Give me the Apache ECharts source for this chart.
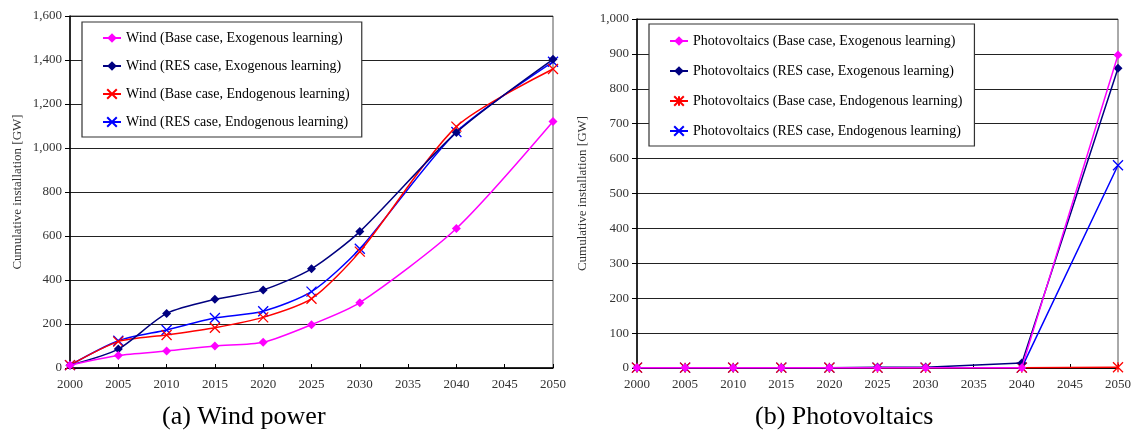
<!DOCTYPE html>
<html>
<head>
<meta charset="utf-8">
<script src="https://cdn.jsdelivr.net/npm/echarts@6/dist/echarts.min.js"></script>
<style>
  html, body { margin: 0; padding: 0; background: #fff; }
  #chart { width: 1134px; height: 434px; }
</style>
</head>
<body>
<div id="chart"></div>
<script>
// years with data (2035 and 2045 have none)
const years = [2000, 2005, 2010, 2015, 2020, 2025, 2030, 2040, 2050]

// wind power, cumulative installation [GW]
const windBaseExo = [13, 57, 77, 100, 117, 197, 297, 634, 1120]
const windResExo = [13, 86, 248, 312, 355, 451, 620, 1071, 1403]
const windBaseEndo = [13, 120, 150, 183, 230, 315, 529, 1097, 1359]
const windResEndo = [13, 124, 173, 227, 258, 347, 542, 1073, 1392]

// photovoltaics, cumulative installation [GW]
const pvBaseExo = [1, 1, 1, 1, 1, 1, 1, 1, 897]
const pvResExo = [1, 1, 1, 1, 1, 2, 2, 14, 859]
const pvBaseEndo = [1, 1, 1, 1, 1, 1, 1, 1, 2]
const pvResEndo = [1, 1, 1, 1, 1, 1, 1, 1, 581]

const windNames = [
  'Wind (Base case, Exogenous learning)',
  'Wind (RES case, Exogenous learning)',
  'Wind (Base case, Endogenous learning)',
  'Wind (RES case, Endogenous learning)'
]
const pvNames = [
  'Photovoltaics (Base case, Exogenous learning)',
  'Photovoltaics (RES case, Exogenous learning)',
  'Photovoltaics (Base case, Endogenous learning)',
  'Photovoltaics (RES case, Endogenous learning)'
]
const panelTitles = ['(a) Wind power', '(b) Photovoltaics']
const yName = 'Cumulative installation [GW]'

const colors = ['#ff00ff', '#000080', '#ff0000', '#0000ff']
const crossPath = 'path://M0,0L10,10M10,0L0,10'
const starPath = 'path://M0,0L10,10M10,0L0,10M5,0L5,10'

const font = '"Liberation Serif", "DejaVu Serif", serif'

const chart = echarts.init(document.getElementById('chart'))

const pairs = vals => years.map((y, i) => [y, vals[i]])

const makeSeries = (name, vals, idx, gridIdx, symbol, smooth) => {
  const isPath = symbol !== 'diamond'
  return {
    name,
    type: 'line',
    xAxisIndex: gridIdx,
    yAxisIndex: gridIdx,
    data: pairs(vals),
    smooth,
    symbol,
    symbolSize: isPath ? 10 : 9,
    showAllSymbol: true,
    lineStyle: { color: colors[idx], width: 1.5 },
    itemStyle: isPath
      ? { color: colors[idx], borderColor: colors[idx], borderWidth: 1.3 }
      : { color: colors[idx], borderWidth: 0 },
    emphasis: { disabled: true },
    z: 10 - idx
  }
}

const xAxis = gridIdx => ({
  type: 'value',
  gridIndex: gridIdx,
  min: 2000,
  max: 2050,
  interval: 5,
  axisLine: { lineStyle: { color: '#000', width: 1.5 } },
  axisTick: { inside: true, length: 4, lineStyle: { color: '#000' } },
  axisLabel: { color: '#333', fontFamily: font, fontSize: 13, margin: 10, formatter: v => String(v) },
  splitLine: { show: false }
})

const yAxis = (gridIdx, max, interval) => ({
  type: 'value',
  gridIndex: gridIdx,
  min: 0,
  max,
  interval,
  name: yName,
  nameLocation: 'middle',
  nameGap: gridIdx === 0 ? 46 : 48,
  nameTextStyle: { color: '#333', fontFamily: font, fontSize: 13 },
  axisLine: { show: true, lineStyle: { color: '#000', width: 1.5 } },
  axisTick: { show: true, length: 5, lineStyle: { color: '#000' } },
  axisLabel: {
    color: '#333',
    fontFamily: font,
    fontSize: 13,
    margin: 8,
    formatter: v => v.toLocaleString('en-US')
  },
  splitLine: { lineStyle: { color: '#222', width: 1 } }
})

const legend = (names, left, top, gap, padTop) => ({
  data: names,
  orient: 'vertical',
  left,
  top,
  itemGap: gap,
  itemWidth: 18,
  itemHeight: 12,
  padding: [padTop, 12, 8, 20],
  backgroundColor: '#fff',
  borderColor: '#333',
  borderWidth: 1.2,
  textStyle: { color: '#000', fontFamily: font, fontSize: 14 },
  selectedMode: false
})

const windSymbols = ['diamond', 'diamond', crossPath, crossPath]
const pvSymbols = ['diamond', 'diamond', starPath, crossPath]

const option = {
  animation: false,
  backgroundColor: '#fff',
  grid: [
    { left: 70, top: 16, width: 483, height: 352, show: true, borderColor: '#555', borderWidth: 1 },
    { left: 637, top: 19, width: 485, height: 349, show: true, borderColor: '#555', borderWidth: 1 }
  ],
  xAxis: [xAxis(0), xAxis(1)],
  yAxis: [yAxis(0, 1600, 200), yAxis(1, 1000, 100)],
  legend: [
    legend(windNames, 82, 22, 14, 9),
    legend(pvNames, 649, 24, 16, 10)
  ],
  graphic: [
    {
      type: 'text', left: 162, top: 404,
      style: { text: panelTitles[0], font: '26px ' + font, fill: '#000' }
    },
    {
      type: 'text', left: 755, top: 404,
      style: { text: panelTitles[1], font: '26px ' + font, fill: '#000' }
    }
  ],
  series: [
    makeSeries(windNames[0], windBaseExo, 0, 0, windSymbols[0], 0.25),
    makeSeries(windNames[1], windResExo, 1, 0, windSymbols[1], 0.25),
    makeSeries(windNames[2], windBaseEndo, 2, 0, windSymbols[2], 0.25),
    makeSeries(windNames[3], windResEndo, 3, 0, windSymbols[3], 0.25),
    makeSeries(pvNames[0], pvBaseExo, 0, 1, pvSymbols[0], false),
    makeSeries(pvNames[1], pvResExo, 1, 1, pvSymbols[1], false),
    makeSeries(pvNames[2], pvBaseEndo, 2, 1, pvSymbols[2], false),
    makeSeries(pvNames[3], pvResEndo, 3, 1, pvSymbols[3], false)
  ]
}

chart.setOption(option)
</script>
</body>
</html>
